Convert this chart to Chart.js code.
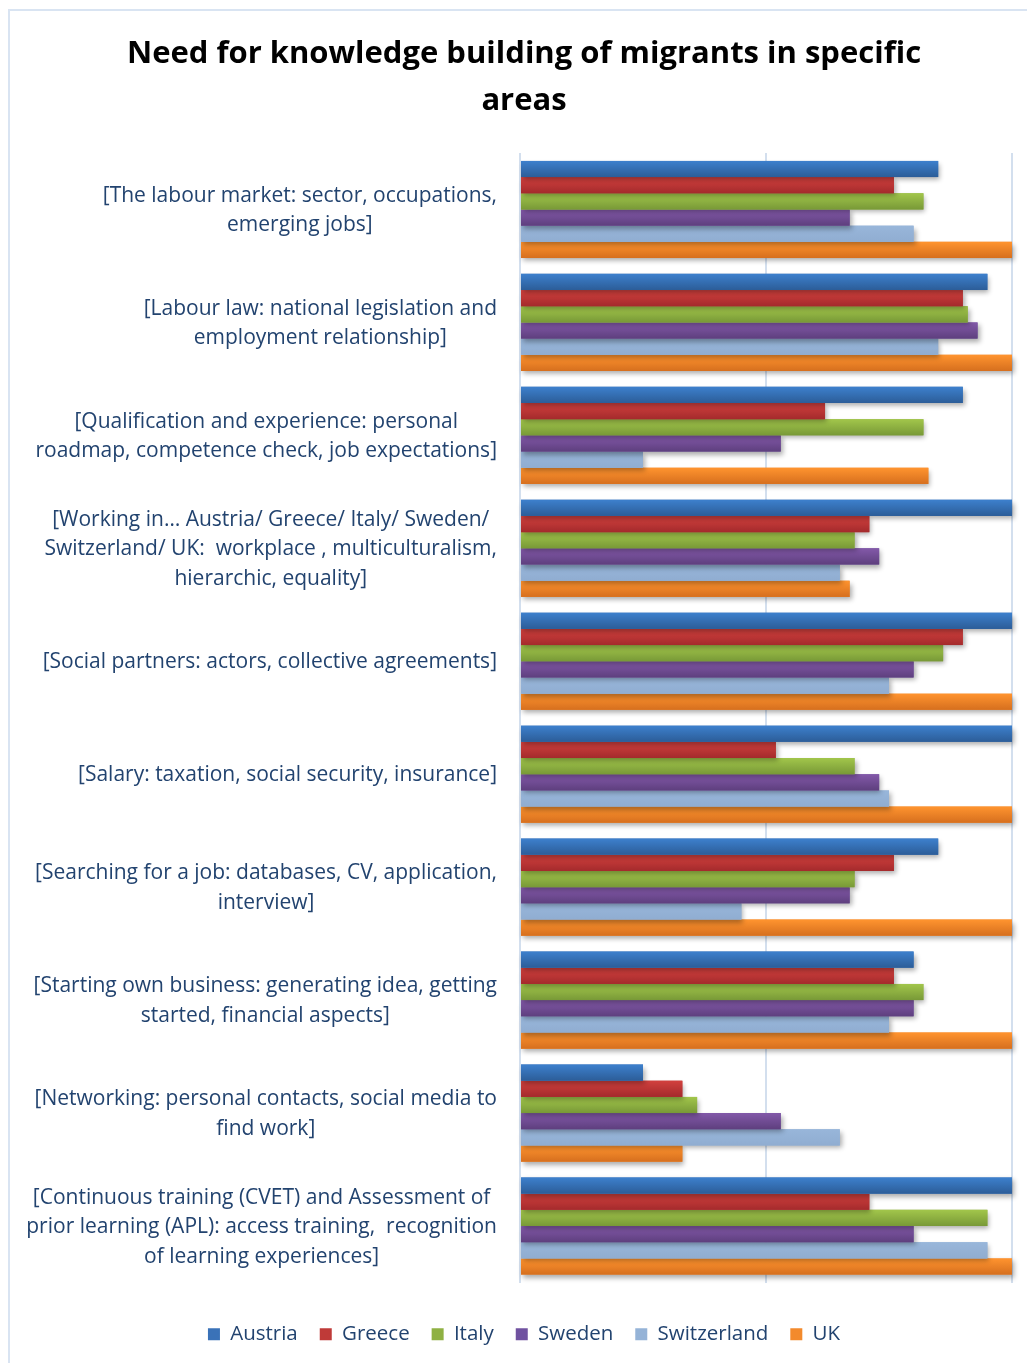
<!DOCTYPE html>
<html>
<head>
<meta charset="utf-8">
<script src="https://cdn.jsdelivr.net/npm/chart.js@4"></script>
<style>
  html, body { margin: 0; padding: 0; background: #fff; overflow: hidden; }
  #frame {
    position: absolute; left: 8px; top: 9px;
    width: 1032px; height: 1400px;
    border-left: 2px solid #d9e4f2; border-top: 2px solid #d9e4f2;
    box-sizing: border-box;
  }
  #wrap { position: absolute; left: 8px; top: 9px; width: 1032px; height: 1354px; }
</style>
</head>
<body>
<div id="frame"></div>
<div id="wrap"><canvas id="myChart"></canvas></div>
<script>
// categories (already wrapped the way the original shows them)
var topics = [
  ['[The labour market: sector, occupations,', 'emerging jobs]'],
  ['[Labour law: national legislation and', 'employment relationship]'],
  ['[Qualification and experience: personal', 'roadmap, competence check, job expectations]'],
  ['[Working in\u2026 Austria/ Greece/ Italy/ Sweden/', 'Switzerland/ UK:  workplace , multiculturalism,', 'hierarchic, equality]'],
  ['[Social partners: actors, collective agreements]'],
  ['[Salary: taxation, social security, insurance]'],
  ['[Searching for a job: databases, CV, application,', 'interview]'],
  ['[Starting own business: generating idea, getting', 'started, financial aspects]'],
  ['[Networking: personal contacts, social media to', 'find work]'],
  ['[Continuous training (CVET) and Assessment of', 'prior learning (APL): access training,  recognition', 'of learning experiences]']
];

// share of answers per country (%)
var austria     = [85, 95, 90, 100, 100, 100, 85, 80, 25, 100];
var greece      = [76, 90, 62, 71, 90, 52, 76, 76, 33, 71];
var italy       = [82, 91, 82, 68, 86, 68, 68, 82, 36, 95];
var sweden      = [67, 93, 53, 73, 80, 73, 67, 80, 53, 80];
var switzerland = [80, 85, 25, 65, 75, 75, 45, 75, 65, 95];
var uk          = [100, 100, 83, 67, 100, 100, 100, 100, 33, 100];

var countries = ['Austria', 'Greece', 'Italy', 'Sweden', 'Switzerland', 'UK'];

var textColor = '#22436f';
var labelFont = '21px "Open Sans"';

// colour of each series: flat, top of bar, bottom of bar
var shades = [
  ['#3a72b8', '#3d80cd', '#2c5d98'],
  ['#bf3a38', '#d2413e', '#a42a2c'],
  ['#8fb143', '#a2c64b', '#789937'],
  ['#7052a0', '#8359a9', '#5e3f7e'],
  ['#95b3d7', '#98b6da', '#90add1'],
  ['#f38a2c', '#ff942f', '#d66f1e']
];

// soft drop shadow + vertical gradient on every bar, like the office chart
var barShade = {
  id: 'barShade',
  beforeDatasetDraw: function (chart, args) {
    var ctx = chart.ctx;
    ctx.save();
    ctx.shadowColor = 'rgba(0,0,0,0.33)';
    ctx.shadowBlur = 5;
    ctx.shadowOffsetX = 2;
    ctx.shadowOffsetY = 3;
  },
  afterDatasetDraw: function (chart, args) {
    var ctx = chart.ctx;
    ctx.restore();
    var sh = shades[args.index];
    args.meta.data.forEach(function (bar) {
      var p = bar.getProps(['x', 'y', 'base', 'height'], true);
      var left = Math.min(p.x, p.base);
      var w = Math.abs(p.x - p.base);
      var top = p.y - p.height / 2;
      var g = ctx.createLinearGradient(0, top, 0, top + p.height);
      g.addColorStop(0, sh[1]);
      g.addColorStop(1, sh[2]);
      ctx.save();
      ctx.fillStyle = g;
      ctx.fillRect(left, top, w, p.height);
      ctx.restore();
    });
  }
};

// category labels: each block right aligned, its lines centred
var topicLabels = {
  id: 'topicLabels',
  afterDraw: function (chart) {
    var ctx = chart.ctx;
    var yScale = chart.scales.y;
    var right = yScale.right - 23;
    var lineH = 29.5;
    ctx.save();
    ctx.font = labelFont;
    ctx.fillStyle = textColor;
    ctx.textAlign = 'center';
    ctx.textBaseline = 'middle';
    chart.data.labels.forEach(function (lines, i) {
      var widest = 0;
      lines.forEach(function (l) { widest = Math.max(widest, ctx.measureText(l).width); });
      var cx = right - widest / 2;
      var cy = yScale.getPixelForTick(i) + 1;
      var y0 = cy - (lines.length - 1) * lineH / 2;
      lines.forEach(function (l, k) { ctx.fillText(l, cx, y0 + k * lineH); });
    });
    ctx.restore();
  }
};

var series = [austria, greece, italy, sweden, switzerland, uk];

var chart = new Chart('myChart', {
  type: 'bar',
  data: {
    labels: topics,
    datasets: series.map(function (vals, i) {
      return {
        label: countries[i],
        data: vals,
        backgroundColor: shades[i][0],
        borderWidth: 0,
        barPercentage: 1,
        categoryPercentage: 0.86,
        clip: false
      };
    })
  },
  options: {
    indexAxis: 'y',
    responsive: true,
    maintainAspectRatio: false,
    animation: false,
    layout: { padding: { left: 0, right: 0, top: 0, bottom: 8.5 } },
    plugins: {
      title: {
        display: true,
        text: ['Need for knowledge building of migrants in specific', 'areas'],
        color: '#000',
        font: { family: 'Open Sans', size: 31, weight: 'bold', lineHeight: 1.516 },
        padding: { top: 21.5, bottom: 28.5 }
      },
      legend: {
        position: 'bottom',
        labels: {
          color: textColor,
          font: { family: 'Open Sans', size: 20.5 },
          boxWidth: 12,
          boxHeight: 12,
          padding: 22
        }
      },
      tooltip: { enabled: false }
    },
    scales: {
      x: {
        min: 0,
        max: 100,
        ticks: { display: false, stepSize: 50 },
        grid: { color: '#d3dfee', lineWidth: 2, drawTicks: false },
        border: { display: false },
        afterFit: function (scale) { scale.height = 19.5; }
      },
      y: {
        ticks: { display: false },
        grid: { display: false },
        border: { display: false },
        afterFit: function (scale) { scale.width = 512; }
      },
      // empty strip on the right so the plot ends where the original does
      yRight: {
        type: 'category',
        position: 'right',
        ticks: { display: false },
        grid: { display: false },
        border: { display: false },
        afterFit: function (scale) { scale.width = 28; }
      }
    }
  },
  plugins: [barShade, topicLabels]
});
</script>
</body>
</html>
